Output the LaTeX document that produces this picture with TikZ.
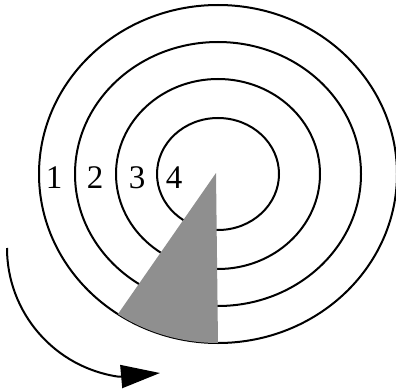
\documentclass[tikz,border=0pt]{standalone}
\usepackage{fontspec}
\setmainfont{Liberation Serif}
\usetikzlibrary{arrows.meta, calc}

\definecolor{sectorgray}{RGB}{143,143,143}

\begin{document}
\begin{tikzpicture}[x=1pt, y=1pt, line width=2pt]
  \useasboundingbox (0,0) rectangle (396,389);

  % Centre of the tracks
  \coordinate (C) at (218,215);

  % Tracks, outer to inner
  \draw (C) ellipse [x radius=179pt, y radius=169pt];
  \draw (C) ellipse [x radius=143pt, y radius=132pt];
  \draw (C) ellipse [x radius=102pt, y radius=95pt];
  \draw (C) ellipse [x radius=61pt, y radius=56pt];

  % Track numbers
  \node[font=\fontsize{33}{33}\selectfont] (t1) at (54,211) {1};
  \node[font=\fontsize{33}{33}\selectfont] (t2) at (95,211) {2};
  \node[font=\fontsize{33}{33}\selectfont] (t3) at (137,211) {3};
  \node[font=\fontsize{33}{33}\selectfont] (t4) at (174,211) {4};

  % Sector under the head
  \coordinate (Apex) at (216,216);
  \fill[sectorgray] (Apex) -- ($(C)+(236:179pt and 169pt)$)
    arc[start angle=236, end angle=270, x radius=179pt, y radius=169pt] -- cycle;

  % Direction of rotation
  \coordinate (Start) at (7,141);
  \coordinate (Tip) at (160,16);
  \draw[-{Triangle[length=39pt, width=23pt]}] (Start)
    arc[start angle=180, end angle=262, radius=130pt] -- (Tip);
\end{tikzpicture}
\end{document}
